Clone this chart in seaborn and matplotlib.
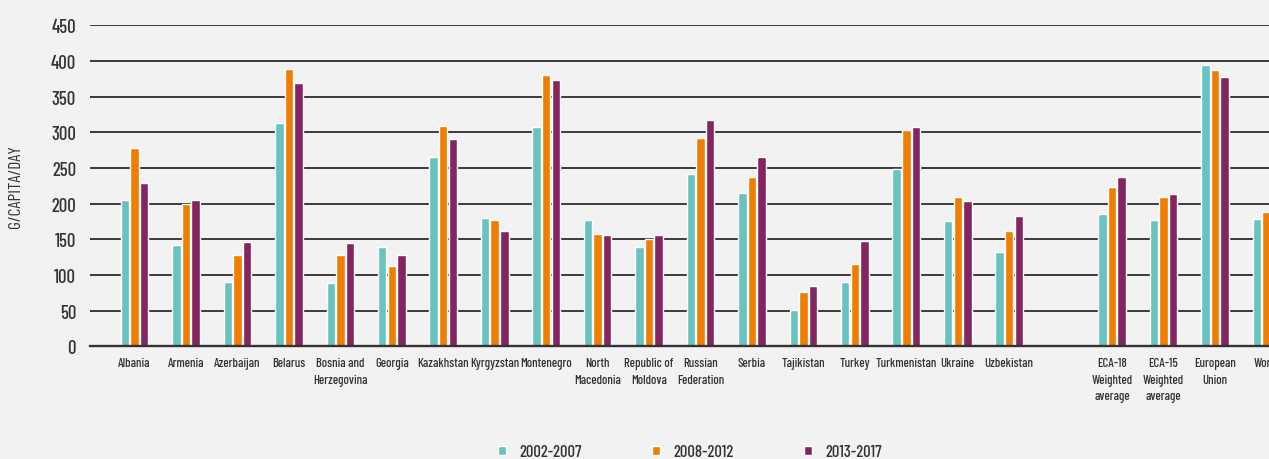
import matplotlib
matplotlib.use('Agg')
import matplotlib.pyplot as plt
import seaborn as sns
import pandas as pd

# categories ("" is the empty slot before the aggregates)
countries = ['Albania', 'Armenia', 'Azerbaijan', 'Belarus', 'Bosnia and\nHerzegovina',
             'Georgia', 'Kazakhstan', 'Kyrgyzstan', 'Montenegro', 'North\nMacedonia',
             'Republic of\nMoldova', 'Russian\nFederation', 'Serbia', 'Tajikistan', 'Turkey',
             'Turkmenistan', 'Ukraine', 'Uzbekistan', 'ECA-18\nWeighted\naverage',
             'ECA-15\nWeighted\naverage', 'European\nUnion', 'World']
periods = ['2002-2007', '2008-2012', '2013-2017']

v_2002_2007 = [205, 142, 90, 313, 89, 139, 265, 180, 307, 177, 139, 242, 215, 51, 90,
               249, 176, 132, 185, 177, 394, 178]
v_2008_2012 = [278, 200, 128, 389, 128, 113, 309, 177, 380, 157, 150, 292, 237, 76, 115,
               303, 209, 162, 223, 209, 387, 188]
v_2013_2017 = [229, 205, 146, 369, 145, 128, 291, 162, 373, 156, 156, 317, 265, 85, 148,
               307, 204, 183, 237, 213, 377, 190]

colors = ['#68c3c0', '#ef7d00', '#842460']

order = countries[:18] + [''] + countries[18:]

rows = []
for p, vals in zip(periods, [v_2002_2007, v_2008_2012, v_2013_2017]):
    for c, v in zip(countries, vals):
        rows.append({'country': c, 'period': p, 'value': v})
df = pd.DataFrame(rows)

sns.set_style('white')
plt.rcParams['font.family'] = ['Barlow Condensed', 'Roboto Condensed', 'DejaVu Sans']
plt.rcParams['font.weight'] = 500

bg = '#f2f2f2'
txt = '#333333'
fig = plt.figure(figsize=(12.69, 4.6), dpi=100, facecolor=bg)
ax = fig.add_axes([90 / 1269, 0.245, 1221 / 1269, 0.698])
ax.set_facecolor(bg)

sns.barplot(data=df, x='country', y='value', hue='period', order=order,
            hue_order=periods, palette=colors, saturation=1, width=0.56, gap=0.12,
            ax=ax, legend=True)

ax.set_xlim(-0.867, len(order) - 1 + 0.867)
ax.set_ylim(0, 450)
ax.set_yticks(range(0, 451, 50))
ax.yaxis.grid(True, color='#3a3a3a', linewidth=1.4)
ax.set_axisbelow(True)
for s in ['top', 'right', 'left']:
    ax.spines[s].set_visible(False)
ax.spines['bottom'].set_color('#333333')
ax.spines['bottom'].set_linewidth(1.7)

ax.tick_params(axis='y', length=0, pad=10, labelsize=13.5, labelcolor=txt)
ax.tick_params(axis='x', length=0, pad=8, labelsize=9.2, labelcolor=txt)
for lbl in ax.get_xticklabels():
    lbl.set_linespacing(1.5)

ax.set_xlabel('')
ax.set_ylabel('G/CAPITA/DAY', fontsize=12.5, color=txt, labelpad=20)

ax.get_legend().remove()
handles, labels = ax.get_legend_handles_labels()
fig.legend(handles, labels, loc='center', bbox_to_anchor=(690 / 1269, 7 / 460),
           ncol=3, frameon=False, fontsize=12, handlelength=0.5, handleheight=0.5,
           handletextpad=0.8, columnspacing=4.2, labelcolor=txt)

fig.savefig('out.png', dpi=100, facecolor=bg)
